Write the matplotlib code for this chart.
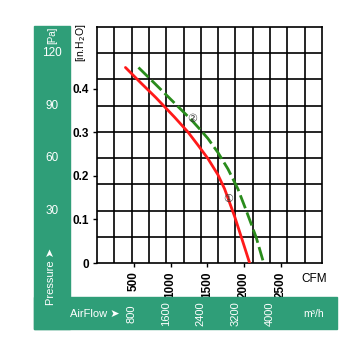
import matplotlib
matplotlib.use("Agg")
import matplotlib.pyplot as plt
from matplotlib.patches import Rectangle
import numpy as np

plt.rcParams['font.family'] = ['Liberation Sans Narrow', 'Liberation Sans', 'DejaVu Sans']

# curve 1 (red, solid) - CFM vs in.H2O
red_cfm = [387, 600, 800, 1054, 1236, 1372, 1508, 1644, 1736, 1872, 1985, 2076]
red_inh2o = [0.449, 0.413, 0.380, 0.335, 0.301, 0.271, 0.240, 0.203, 0.170, 0.107, 0.048, 0.0]

# curve 2 (green, dashed)
green_cfm = [564, 805, 1050, 1282, 1400, 1508, 1644, 1781, 1917, 2031, 2167, 2267]
green_inh2o = [0.449, 0.409, 0.368, 0.329, 0.307, 0.286, 0.254, 0.216, 0.170, 0.120, 0.058, 0.0]

# operating points marked on the curves
pt_labels = ['①', '②']
pt_cfm = [1781, 1292]
pt_inh2o = [0.147, 0.330]

cfm_ticks = [500, 1000, 1500, 2000, 2500]
inh2o_ticks = [0, 0.1, 0.2, 0.3, 0.4]
pa_ticks = [30, 60, 90, 120]
m3h_ticks = [800, 1600, 2400, 3200, 4000]

CFM_PER_M3H = 1 / 1.699
INH2O_PER_PA = 1 / 249.09
x_max = 5200 * CFM_PER_M3H     # 13 columns of 400 m3/h
y_max = 135 * INH2O_PER_PA     # 9 rows of 15 Pa

band = '#2f9e78'

fig = plt.figure(figsize=(3.58, 3.42), dpi=100)
W, H = 358, 342

def fx(px):
    return px / W

def fy(py):
    return 1 - py / H

# green bands
fig.patches.append(Rectangle((fx(34), fy(329)), fx(70) - fx(34), fy(26) - fy(329),
                             transform=fig.transFigure, color=band, zorder=0))
fig.patches.append(Rectangle((fx(34), fy(329)), fx(337) - fx(34), fy(297) - fy(329),
                             transform=fig.transFigure, color=band, zorder=0))

ax = fig.add_axes([fx(97), fy(263), fx(322) - fx(97), fy(27) - fy(263)])
ax.set_xlim(0, x_max)
ax.set_ylim(0, y_max)

# grid: columns every 400 m3/h, rows every 15 Pa
for v in np.arange(400, 5200, 400):
    ax.axvline(v * CFM_PER_M3H, color='black', lw=1.2, zorder=1)
for v in np.arange(15, 135, 15):
    ax.axhline(v * INH2O_PER_PA, color='black', lw=1.2, zorder=1)
for s in ax.spines.values():
    s.set_linewidth(1.2)

ax.plot(red_cfm, red_inh2o, color='#ff1a1a', lw=2.0, zorder=3,
        solid_capstyle='round', solid_joinstyle='round')
ax.plot(green_cfm, green_inh2o, color='#2a8c1c', lw=2.0, dashes=(5, 1.6), zorder=3,
        dash_joinstyle='round')
for lab, x, y in zip(pt_labels, pt_cfm, pt_inh2o):
    ax.text(x, y, lab, ha='center', va='center', fontsize=8, color='#333333',
            zorder=4, family=['DejaVu Sans'])

ax.set_xticks(cfm_ticks)
ax.set_xticklabels([str(v) for v in cfm_ticks], rotation=90, fontsize=8.5)
ax.set_yticks(inh2o_ticks)
ax.set_yticklabels(['0', '0.1', '0.2', '0.3', '0.4'], fontsize=8.5)
ax.tick_params(axis='both', length=3, width=1, pad=3)
for t in ax.get_xticklabels() + ax.get_yticklabels():
    t.set_fontweight('bold')

fig.text(fx(314), fy(279), 'CFM', ha='center', va='center', fontsize=8.5)
fig.text(fx(81), fy(43), '[in.H$_2$O]', ha='center', va='center', rotation=90, fontsize=7.5)

# pressure band (Pa)
fig.text(fx(52), fy(35), '[Pa]', ha='center', va='center', rotation=90, fontsize=7, color='white')
for p in pa_ticks:
    yp = fy(263) + (fy(27) - fy(263)) * (p / 135)
    fig.text(fx(52), yp, str(p), ha='center', va='center', fontsize=8.5, color='white')
fig.text(fx(51), fy(276), 'Pressure ➤', ha='center', va='center', rotation=90,
         fontsize=8, color='white')

# airflow band (m3/h)
fig.text(fx(70), fy(314), 'AirFlow ➤', ha='left', va='center', fontsize=8, color='white')
for m in m3h_ticks:
    xp = fx(97) + (fx(322) - fx(97)) * (m / 5200)
    fig.text(xp, fy(314), str(m), ha='center', va='center', rotation=90,
             fontsize=8, color='white')
fig.text(fx(314), fy(314), 'm³/h', ha='center', va='center', fontsize=7.5, color='white')

fig.savefig('out.png', dpi=100)
